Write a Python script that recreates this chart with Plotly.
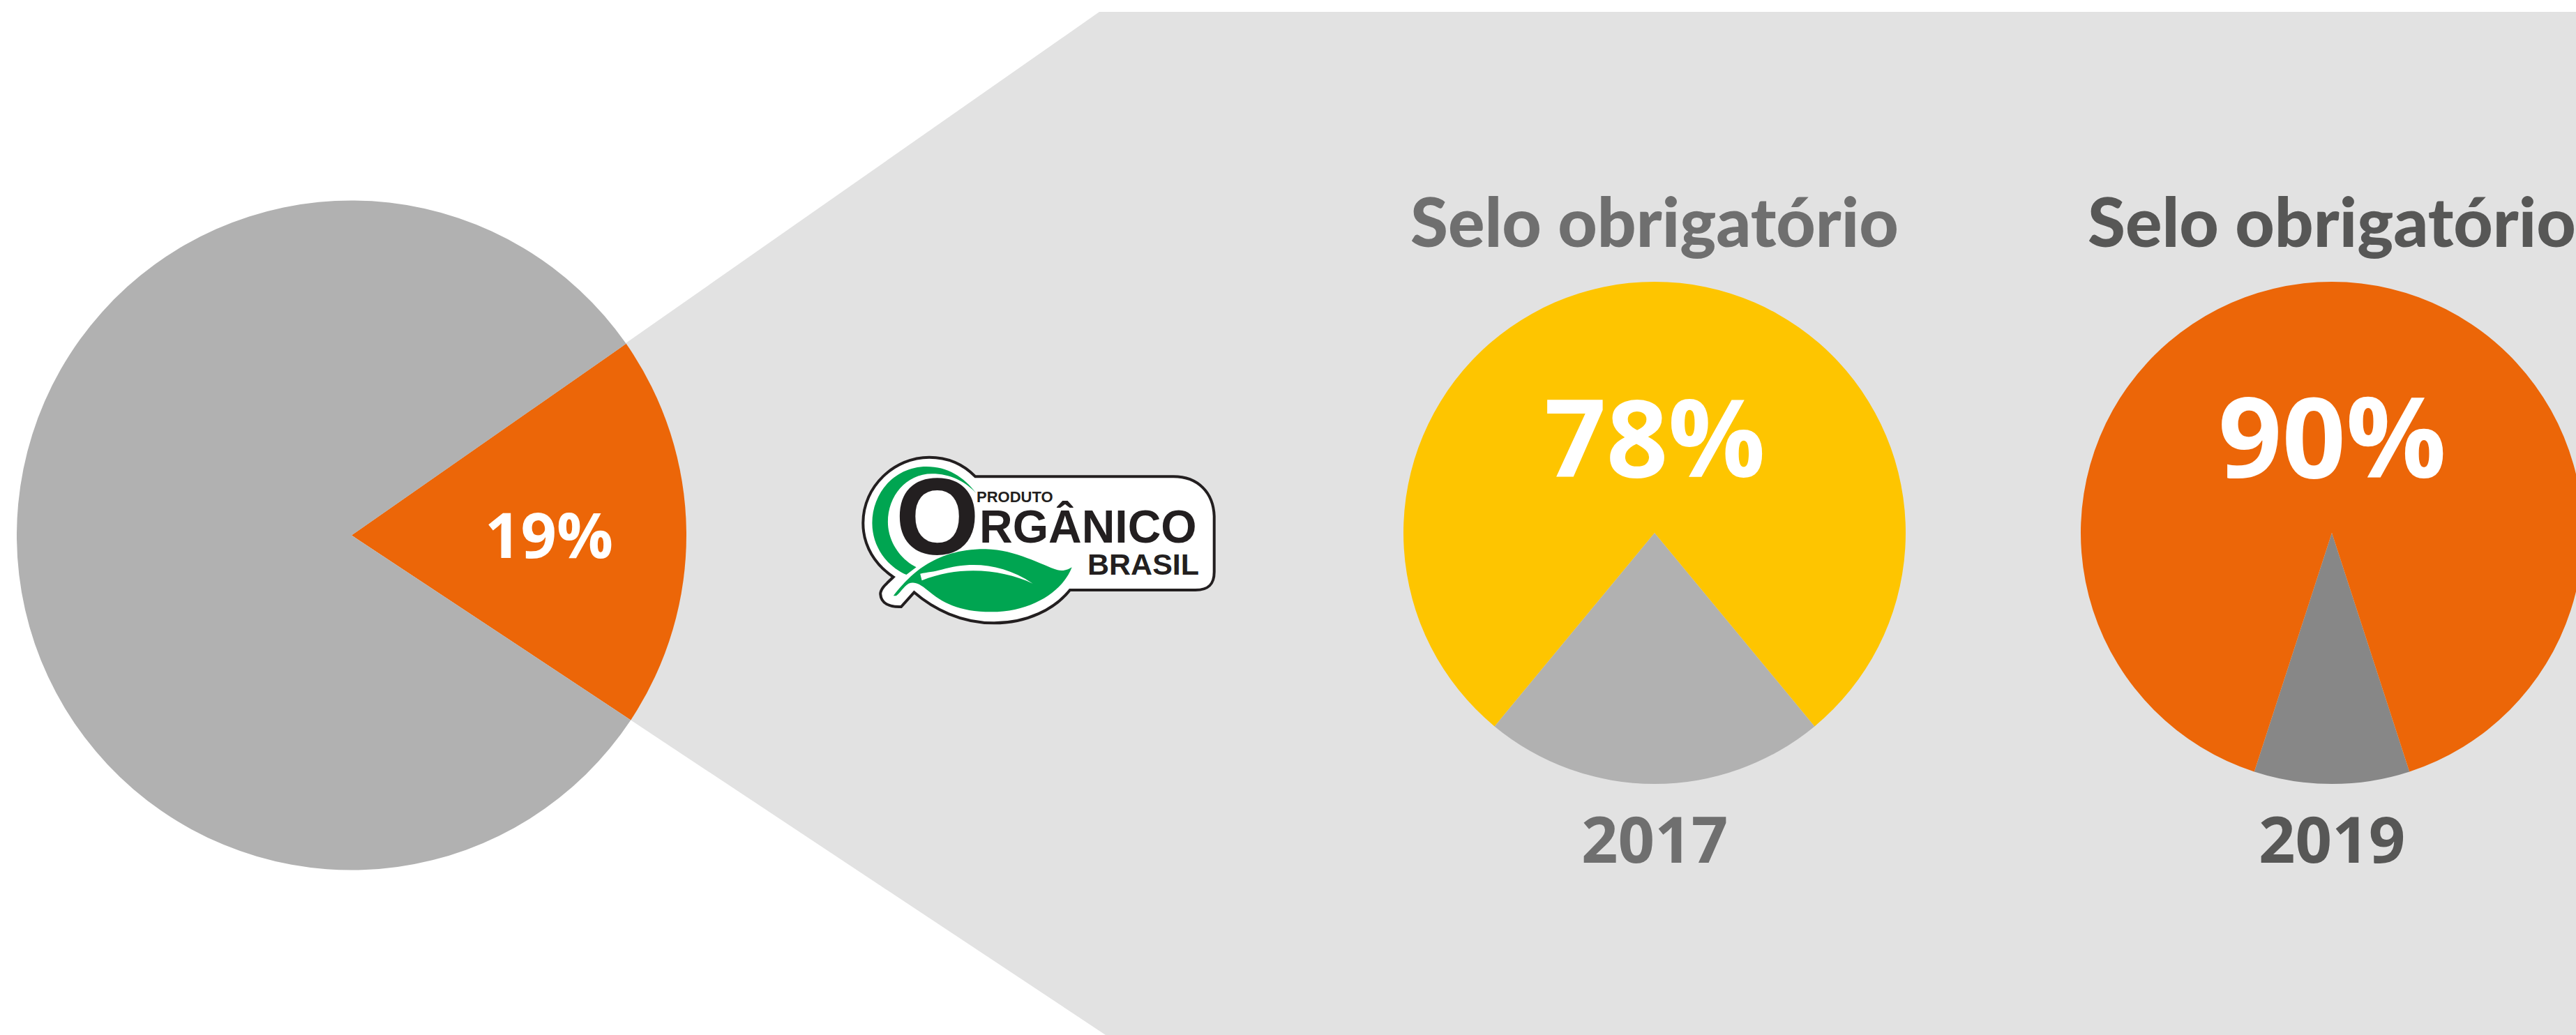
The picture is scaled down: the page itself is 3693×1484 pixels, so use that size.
import plotly.graph_objects as go

# ---- data ----
share_values = [19, 81]
y2017_values = [22, 78]
y2019_values = [10, 90]
title_text = "Selo obrigatório"
year_labels = ["2017", "2019"]
logo_words = ["PRODUTO", "O", "RGÂNICO", "BRASIL"]

# ---- canvas (slightly wider than the window: the last pie runs off the page) ----
W, H = 3712, 1484
ORANGE, YELLOW = "#EC6608", "#FEC500"
GREY_L, GREY_D, PANEL = "#B1B1B1", "#878787", "#E2E2E2"
FONT = "Lato"
NUM = "Open Sans"


def pie(values, colors, cx, cy, r, rotation):
    return go.Pie(
        values=values, sort=False, direction="clockwise", rotation=rotation,
        marker=dict(colors=colors, line=dict(width=0)),
        textinfo="none", hoverinfo="skip", showlegend=False,
        domain=dict(x=[(cx - r) / W, (cx + r) / W],
                    y=[1 - (cy + r) / H, 1 - (cy - r) / H]),
    )


# logo outlines are sketched in a local frame and mapped onto the page
def lx(x):
    return 1180 + x * 620 / 1568


def ly(y):
    return 620 + y / 3


def path(cmds):
    out = []
    for c in cmds:
        pts = c[1:]
        s = c[0]
        for i in range(0, len(pts), 2):
            s += f" {lx(pts[i]):.1f},{ly(pts[i + 1]):.1f}"
        out.append(s)
    return " ".join(out) + " Z"


outer = [("M", 552, 190), ("L", 1270, 190), ("C", 1360, 190, 1415, 260, 1418, 360), ("L", 1418, 600),
         ("C", 1418, 650, 1400, 678, 1350, 678), ("L", 895, 678), ("C", 840, 760, 740, 820, 620, 820),
         ("C", 500, 820, 400, 760, 330, 688), ("L", 283, 750), ("C", 240, 752, 210, 735, 208, 695),
         ("C", 208, 670, 235, 645, 255, 622), ("C", 190, 570, 145, 490, 145, 390),
         ("C", 145, 230, 260, 107, 385, 107), ("C", 460, 107, 515, 145, 552, 190)]
crescent = [("M", 555, 262), ("C", 510, 190, 450, 147, 375, 147), ("C", 260, 147, 178, 260, 178, 390),
            ("C", 178, 490, 230, 575, 302, 612), ("L", 338, 580), ("C", 280, 545, 235, 470, 235, 385),
            ("C", 235, 275, 300, 178, 395, 178), ("C", 460, 178, 515, 210, 555, 262)]
leaf = [("M", 255, 703), ("C", 310, 620, 400, 500, 590, 502), ("C", 700, 505, 790, 570, 850, 592),
        ("C", 870, 598, 890, 590, 902, 580), ("C", 870, 680, 760, 772, 610, 772),
        ("C", 490, 772, 430, 730, 380, 680), ("C", 350, 650, 330, 640, 310, 650),
        ("C", 290, 665, 280, 690, 265, 703)]
vein = [("M", 352, 608), ("C", 380, 600, 400, 600, 430, 590), ("C", 530, 555, 650, 560, 760, 650),
        ("C", 650, 590, 500, 570, 358, 637)]
GREEN, INK = "#00A551", "#231F20"

shapes = [
    dict(type="path", layer="below", xref="x", yref="y", fillcolor=PANEL, line=dict(width=0),
         path=f"M 504,767 L 1576,17 L {W},17 L {W},{H} L 1585,{H} Z"),
    dict(type="path", layer="below", xref="x", yref="y", fillcolor="white",
         line=dict(color=INK, width=4), path=path(outer)),
    dict(type="path", layer="below", xref="x", yref="y", fillcolor=GREEN, line=dict(width=0), path=path(crescent)),
    dict(type="path", layer="above", xref="x", yref="y", fillcolor=GREEN, line=dict(width=0), path=path(leaf)),
    dict(type="path", layer="above", xref="x", yref="y", fillcolor="white", line=dict(width=0), path=path(vein)),
]


def note(text, x, y, size, color, family=FONT, weight=900):
    return dict(text=text, x=x, y=y, xref="x", yref="y", showarrow=False,
                xanchor="center", yanchor="middle", borderpad=0,
                font=dict(family=family, size=size, color=color, weight=weight))


LOGO = "Liberation Sans"
annotations = [
    note(f"{share_values[0]}%", 787, 765, 90, "white", NUM, 700),
    note(title_text, 2372, 316, 98, "#6F6F6F"),
    note(title_text, 3343, 316, 98, "#575756"),
    note(f"{y2017_values[1]}%", 2372, 623, 155, "white", NUM, 700),
    note(f"{y2019_values[1]}%", 3343, 623, 160, "white", NUM, 700),
    note(year_labels[0], 2372, 1201, 92, "#6F6F6F", NUM, 700),
    note(year_labels[1], 3343, 1201, 92, "#575756", NUM, 700),
    note(logo_words[0], lx(696), ly(276), 22, INK, LOGO, 700),
    note(logo_words[2], lx(961), ly(406), 66, INK, LOGO, 700),
    note(logo_words[3], lx(1160), ly(568), 43, INK, LOGO, 700),
]

fig = go.Figure()
fig.add_trace(go.Scatter(
    x=[lx(414)], y=[ly(405)], mode="text", text=[logo_words[1]], textposition="middle center",
    textfont=dict(family=LOGO, size=155, color=INK, weight=700), hoverinfo="skip", showlegend=False,
))
fig.add_trace(pie(share_values, [ORANGE, GREY_L], 504, 767.5, 480, 55.1))
fig.add_trace(pie(y2017_values, [GREY_L, YELLOW], 2372, 764, 360, 140.4))
fig.add_trace(pie(y2019_values, [GREY_D, ORANGE], 3343, 764, 360, 162))

fig.update_layout(
    width=W, height=H, autosize=False, margin=dict(l=0, r=0, t=0, b=0, pad=0),
    paper_bgcolor="white", plot_bgcolor="rgba(0,0,0,0)", showlegend=False,
    xaxis=dict(range=[0, W], visible=False, fixedrange=True),
    yaxis=dict(range=[H, 0], visible=False, fixedrange=True),
    shapes=shapes, annotations=annotations,
)
fig.write_html(
    "out.html", config=dict(displayModeBar=False),
    post_script="document.body.style.margin='0';document.documentElement.style.overflow='hidden';document.body.style.overflow='hidden';",
)
